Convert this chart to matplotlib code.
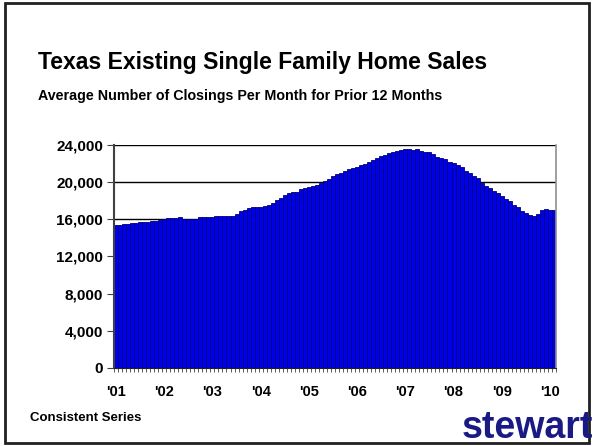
import matplotlib.pyplot as plt
from matplotlib.patches import Rectangle
from matplotlib.ticker import FuncFormatter, MultipleLocator

plt.rcParams["font.family"] = ["Liberation Sans", "DejaVu Sans"]
plt.rcParams["font.weight"] = "bold"

# 12-month average closings, Jan 2001 .. Feb 2010
closings = [
    15360, 15400, 15450, 15500, 15550, 15620, 15680, 15700, 15720, 15760, 15800, 15900,
    15970, 16080, 16100, 16150, 16190, 16050, 16040, 16040, 16060, 16200, 16220, 16220,
    16250, 16300, 16300, 16300, 16300, 16320, 16540, 16830, 17000, 17150, 17260, 17300,
    17330, 17400, 17480, 17760, 18050, 18300, 18550, 18850, 18910, 18950, 19200, 19350,
    19480, 19550, 19700, 19840, 20050, 20270, 20660, 20800, 20980, 21150, 21350, 21450,
    21600, 21780, 21950, 22130, 22400, 22600, 22780, 22900, 23070, 23200, 23350, 23420,
    23500, 23500, 23480, 23500, 23350, 23250, 23180, 22960, 22700, 22550, 22420, 22170,
    22000, 21850, 21560, 21200, 21000, 20600, 20380, 19910, 19550, 19350, 19000, 18770,
    18480, 18120, 17900, 17500, 17330, 16870, 16620, 16400, 16330, 16540, 16970, 17050,
    16970, 16970,
]
year_labels = ["'01", "'02", "'03", "'04", "'05", "'06", "'07", "'08", "'09", "'10"]

fig = plt.figure(figsize=(5.94, 4.46), dpi=100)
ax = fig.add_axes([0.1919, 0.1751, 0.7441, 0.5004])

months = range(len(closings))
ax.bar(months, closings, width=1.0, color="#0000E6", edgecolor="#000080",
       linewidth=0.6, zorder=2)

ax.set_xlim(-0.5, len(closings) - 0.5)
ax.set_ylim(0, 24000)
ax.yaxis.set_major_locator(MultipleLocator(4000))
ax.yaxis.set_major_formatter(FuncFormatter(lambda v, _: f"{int(v):,}"))
ax.set_xticks(range(0, len(closings), 12))
ax.set_xticklabels(year_labels)
ax.set_xticks([m - 0.5 for m in range(len(closings) + 1)], minor=True)

ax.grid(axis="y", color="black", linewidth=1.0, zorder=0)
ax.set_axisbelow(True)
ax.tick_params(axis="y", labelsize=11, length=5, color="#404040", pad=3)
ax.tick_params(axis="x", which="major", labelsize=10.5, length=0, pad=12)
ax.tick_params(axis="x", which="minor", length=3, width=0.6, color="#404040")

ax.spines["top"].set_visible(False)
ax.spines["left"].set_color("#404040")
ax.spines["left"].set_linewidth(1.5)
ax.spines["right"].set_color("#909090")
ax.spines["right"].set_linewidth(1.2)
ax.spines["bottom"].set_color("#202020")

fig.text(38 / 594, 1 - 62 / 446, "Texas Existing Single Family Home Sales",
         fontsize=16.6, fontweight="bold", va="center", ha="left")
fig.text(38 / 594, 1 - 96 / 446, "Average Number of Closings Per Month for Prior 12 Months",
         fontsize=10.3, fontweight="bold", va="center", ha="left")
fig.text(30 / 594, 1 - 418 / 446, "Consistent Series",
         fontsize=9.5, fontweight="bold", va="center", ha="left")
fig.text(593 / 594, 0.5 / 446, "stewart", fontsize=27, fontweight="bold",
         color="#1a1a85", va="bottom", ha="right")

fig.patches.append(Rectangle((5 / 594, 3 / 446), 584 / 594, 440 / 446,
                             transform=fig.transFigure, fill=False,
                             edgecolor="#202020", linewidth=2))

fig.savefig("out.png", dpi=100)
